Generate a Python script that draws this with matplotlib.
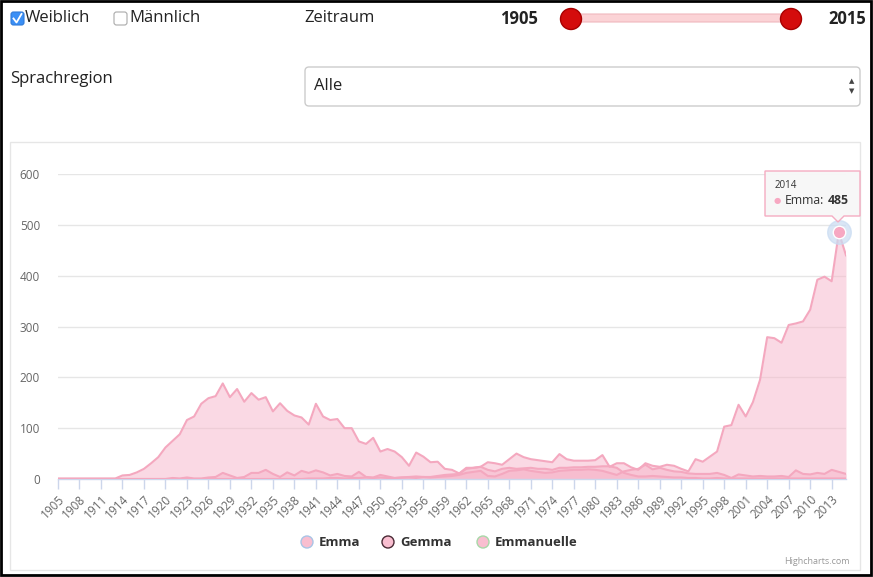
import matplotlib.pyplot as plt
from matplotlib.patches import Rectangle, FancyBboxPatch, Circle, Polygon

plt.rcParams['font.family'] = ['Open Sans', 'DejaVu Sans']

years = list(range(1905, 2016))

emma = [1, 1, 1, 1, 1, 1, 1, 1, 1, 7,
        8, 13, 20, 31, 43, 62, 75, 88, 116, 123,
        148, 159, 163, 188, 161, 177, 152, 169, 156, 161,
        133, 149, 134, 125, 121, 107, 148, 123, 116, 118,
        100, 100, 74, 69, 81, 54, 59, 54, 43, 26,
        52, 44, 33, 34, 20, 18, 11, 22, 22, 24,
        33, 31, 28, 39, 50, 43, 39, 37, 35, 33,
        49, 39, 36, 36, 36, 37, 47, 24, 31, 31,
        23, 18, 31, 26, 24, 28, 26, 20, 15, 39,
        34, 44, 54, 103, 106, 146, 123, 151, 195, 279,
        277, 268, 303, 306, 310, 333, 392, 398, 389, 485,
        440]

gemma = [0, 0, 0, 0, 0, 0, 0, 0, 0, 0,
         0, 0, 0, 0, 0, 0, 2, 1, 3, 1,
         1, 3, 4, 12, 7, 2, 4, 12, 12, 18,
         10, 4, 13, 7, 16, 12, 17, 13, 7, 10,
         6, 5, 14, 4, 3, 8, 5, 2, 3, 4,
         5, 4, 3, 4, 5, 6, 8, 12, 14, 16,
         6, 5, 10, 16, 17, 19, 16, 14, 12, 13,
         16, 17, 18, 18, 19, 18, 16, 12, 8, 15,
         18, 20, 28, 19, 22, 18, 15, 14, 11, 10,
         10, 10, 12, 8, 2, 9, 7, 5, 6, 5,
         5, 6, 4, 17, 10, 9, 12, 10, 18, 14,
         10]

emmanuelle = [0, 0, 0, 0, 0, 0, 0, 0, 0, 0,
              0, 0, 0, 0, 0, 0, 0, 0, 0, 0,
              0, 0, 0, 0, 0, 0, 0, 0, 0, 0,
              0, 0, 0, 0, 0, 1, 1, 1, 2, 2,
              1, 2, 2, 3, 2, 3, 2, 2, 3, 3,
              2, 4, 4, 6, 8, 9, 10, 20, 22, 24,
              18, 15, 20, 22, 20, 21, 22, 20, 20, 18,
              22, 22, 23, 23, 24, 24, 25, 25, 22, 12,
              8, 5, 5, 6, 5, 4, 3, 3, 2, 2,
              1, 1, 2, 1, 1, 1, 1, 1, 1, 1,
              1, 1, 1, 1, 1, 1, 1, 1, 1, 1,
              1]

series_names = ['Emma', 'Gemma', 'Emmanuelle']
legend_edges = ['#a9c4e6', '#4a2a35', '#a8d8a8']
y_ticks = [0, 100, 200, 300, 400, 500, 600]
x_ticks = list(range(1905, 2014, 3))

W, H = 873, 577
fig = plt.figure(figsize=(W / 100, H / 100), dpi=100)

# background layer in pixel coordinates
bg = fig.add_axes([0, 0, 1, 1])
bg.set_xlim(0, W)
bg.set_ylim(H, 0)
bg.axis('off')

bg.add_patch(Rectangle((1, 1), W - 3, H - 3, fill=False, ec='black', lw=2))
bg.add_patch(Rectangle((10, 142), 850, 428, fill=False, ec='#e6e6e6', lw=1))

# top controls
bg.add_patch(FancyBboxPatch((11, 12), 13, 13, boxstyle='round,pad=0,rounding_size=2.5',
                            fc='#3b8ff5', ec='#2f7ad9', lw=0.8))
bg.plot([13.5, 16.5, 21.5], [18.5, 22.5, 14], color='white', lw=1.3)
bg.text(25, 18.5, 'Weiblich', fontsize=12, va='center', color='#222222')
bg.add_patch(FancyBboxPatch((114, 12), 13, 13, boxstyle='round,pad=0,rounding_size=2.5',
                            fc='white', ec='#aaaaaa', lw=0.8))
bg.text(129, 18.5, 'Männlich', fontsize=12, va='center', color='#222222')
bg.text(304, 18.5, 'Zeitraum', fontsize=12, va='center', color='#222222')
bg.text(538, 18.5, '1905', fontsize=12, va='center', ha='right', weight='bold', color='#222222')
bg.text(866, 18.5, '2015', fontsize=12, va='center', ha='right', weight='bold', color='#222222')

bg.add_patch(FancyBboxPatch((571, 14), 220, 8, boxstyle='round,pad=0,rounding_size=4',
                            fc='#fbd3d6', ec='#f0b8be', lw=0.8))
for cx in (571, 791):
    bg.add_patch(Circle((cx, 19), 10.5, fc='#d40c0c', ec='#a80000', lw=1))

bg.text(10, 79, 'Sprachregion', fontsize=12, va='center', color='#222222')
bg.add_patch(FancyBboxPatch((305, 67), 555, 39, boxstyle='round,pad=0,rounding_size=4',
                            fc='white', ec='#cccccc', lw=1))
bg.text(314, 86.5, 'Alle', fontsize=12, va='center', color='#222222')
bg.text(852, 81, '▲', fontsize=5, ha='center', va='center', color='#444444', family='DejaVu Sans')
bg.text(852, 91, '▼', fontsize=5, ha='center', va='center', color='#444444', family='DejaVu Sans')

# chart
x0, x1, yb, yt = 58, 846, 479, 174
ax = fig.add_axes([x0 / W, 1 - yb / H, (x1 - x0) / W, (yb - yt) / H])
ax.set_facecolor('none')
ax.set_xlim(1905, 2015)
ax.set_ylim(0, 600)

line_col = '#f4a8bf'
fill_col = '#f7b5ca'
for vals in (emma, gemma, emmanuelle):
    ax.fill_between(years, vals, 0, color=fill_col, alpha=0.5, lw=0, zorder=2)
    ax.plot(years, vals, color=line_col, lw=1.5, zorder=3)

ax.set_yticks(y_ticks)
ax.set_yticklabels([str(v) for v in y_ticks])
ax.set_xticks(x_ticks)
ax.set_xticklabels([str(v) for v in x_ticks], rotation=45, ha='right', va='top',
                   rotation_mode='anchor')
ax.grid(axis='y', color='#e6e6e6', lw=1, zorder=0)
ax.set_axisbelow(True)
for s in ('top', 'right', 'left'):
    ax.spines[s].set_visible(False)
ax.spines['bottom'].set_color('#ccd6eb')
ax.spines['bottom'].set_linewidth(1)
ax.tick_params(axis='y', length=0, pad=13, labelsize=8.5, labelcolor='#666666')
ax.tick_params(axis='x', length=7, width=1, color='#ccd6eb', pad=3,
               labelsize=8.5, labelcolor='#666666')

# hovered point
ax.plot([2014], [485], 'o', ms=17, color='#c9dcf2', alpha=0.7, clip_on=False, zorder=4)
ax.plot([2014], [485], 'o', ms=9, mfc='#f7a8c2', mec='white', mew=1, clip_on=False, zorder=5)

# legend
for name, edge, lx in zip(series_names, legend_edges, (307, 388, 483)):
    bg.add_patch(Circle((lx, 542), 6, fc='#f9bed0', ec=edge, lw=1))
    bg.text(lx + 12, 542.5, name, fontsize=9.5, weight='bold', va='center', color='#333333')

bg.text(850, 562, 'Highcharts.com', fontsize=6.5, ha='right', va='center', color='#999999')

# tooltip on top
top = fig.add_axes([0, 0, 1, 1])
top.set_facecolor('none')
top.set_xlim(0, W)
top.set_ylim(H, 0)
top.axis('off')
top.add_patch(Polygon([(765, 171), (860, 171), (860, 216), (844, 216), (838, 222),
                       (832, 216), (765, 216)], closed=True, fc='#f7f7f7', ec='#f4a8bf',
                      lw=1, alpha=0.95))
top.text(775, 185, '2014', fontsize=7, va='center', color='#333333')
top.text(774, 201, '●', fontsize=6, va='center', color='#f7a8c2', family='DejaVu Sans')
label = top.text(785, 201, 'Emma:', fontsize=8.8, va='center', color='#333333')
renderer = fig.canvas.get_renderer()
bb = label.get_window_extent(renderer)
end_x = top.transData.inverted().transform((bb.x1, bb.y0))[0]
top.text(end_x + 3, 201, '485', fontsize=8.8, va='center', color='#333333', weight='bold')

fig.savefig('out.png', dpi=100)
